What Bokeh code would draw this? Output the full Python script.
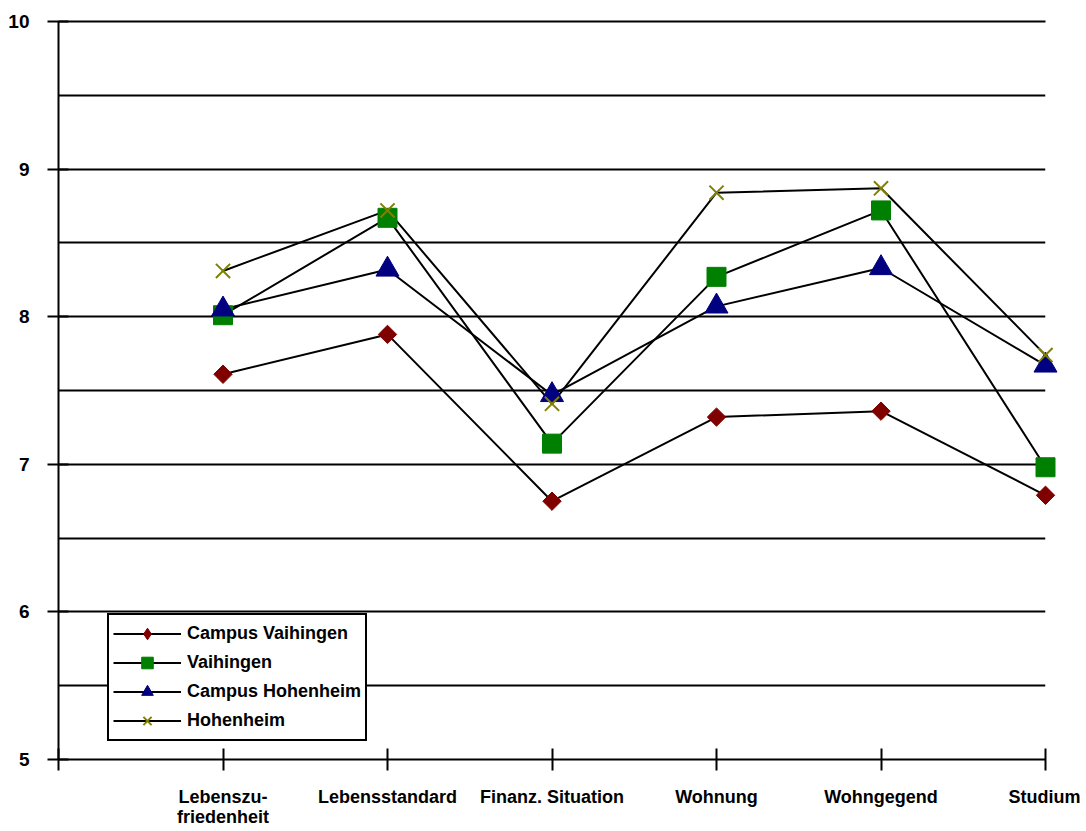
import math
from bokeh.plotting import figure
from bokeh.models import Range1d, FixedTicker, LinearAxis
from bokeh.embed import file_html
from bokeh.resources import INLINE

categories = ["Lebenszu-\nfriedenheit", "Lebensstandard", "Finanz. Situation",
              "Wohnung", "Wohngegend", "Studium"]
campus_vaihingen = [7.61, 7.88, 6.75, 7.32, 7.36, 6.79]
vaihingen = [8.01, 8.67, 7.14, 8.27, 8.72, 6.98]
campus_hohenheim = [8.05, 8.32, 7.47, 8.07, 8.33, 7.67]
hohenheim = [8.31, 8.72, 7.41, 8.84, 8.87, 7.74]
y_ticks = [5, 6, 7, 8, 9, 10]

x = list(range(1, len(categories) + 1))
FONT = "Liberation Sans"

p = figure(width=1080, height=829, x_range=Range1d(0, len(categories)),
           y_range=Range1d(y_ticks[0], y_ticks[-1]),
           output_backend="svg", toolbar_location=None,
           min_border_left=58, min_border_right=35, min_border_top=21, min_border_bottom=10)
p.outline_line_color = None
p.background_fill_color = "white"

# grid
p.xgrid.grid_line_color = None
p.ygrid.grid_line_color = "black"
p.ygrid.grid_line_width = 2
p.ygrid.minor_grid_line_color = "black"
p.ygrid.minor_grid_line_width = 2

# y axis
yax = p.left[0]
yax.ticker = FixedTicker(ticks=y_ticks, minor_ticks=[t + 0.5 for t in y_ticks[:-1]])
yax.axis_line_color = "black"
yax.axis_line_width = 2
yax.major_tick_line_width = 2
yax.major_tick_in = 10
yax.major_tick_out = 11
yax.minor_tick_in = 0
yax.minor_tick_out = 0
yax.major_label_standoff = 18
yax.major_label_text_font = FONT
yax.major_label_text_font_style = "bold"
yax.major_label_text_font_size = "19px"
yax.major_label_text_color = "black"

# x axis
xax = p.below[0]
xax.ticker = FixedTicker(ticks=[0] + x)
overrides = {0: ""}
for xi, c in zip(x, categories):
    overrides[xi] = c
xax.major_label_overrides = overrides
xax.axis_line_color = "black"
xax.axis_line_width = 2
xax.major_tick_line_width = 2
xax.major_tick_in = 11
xax.major_tick_out = 11
xax.minor_tick_in = 0
xax.minor_tick_out = 0
xax.major_label_standoff = 16
xax.major_label_text_font = FONT
xax.major_label_text_font_style = "bold"
xax.major_label_text_font_size = "18px"
xax.major_label_text_line_height = 1.0
xax.major_label_text_color = "black"

# top border line (gridline at 10)
top = LinearAxis(ticker=FixedTicker(ticks=[]), axis_line_color="black", axis_line_width=2,
                 major_tick_in=0, major_tick_out=0, minor_tick_in=0, minor_tick_out=0,
                 major_label_standoff=0, major_label_text_font_size="0px")
p.add_layout(top, "above")

series = [
    ("Campus Vaihingen", campus_vaihingen, dict(marker="square", angle=math.pi / 4, size=13,
                                                 fill_color="#800000", line_color="#800000")),
    ("Vaihingen", vaihingen, dict(marker="square", size=19,
                                  fill_color="#008000", line_color="#008000")),
    ("Campus Hohenheim", campus_hohenheim, dict(marker="triangle", size=23,
                                                fill_color="#000080", line_color="#000080")),
    ("Hohenheim", hohenheim, dict(marker="x", size=20, line_color="#808000", line_width=2)),
]

for name, vals, _ in series:
    p.line(x, vals, line_color="black", line_width=2, legend_label=name)
for i, (name, vals, style) in enumerate(series):
    if i == 0:
        # rotated square in the chart; legend swatch uses a diamond marker (no visible data)
        p.scatter(x, vals, level="overlay", **style)
        p.scatter([math.nan], [math.nan], legend_label=name, marker="diamond",
                  fill_color=style["fill_color"], line_color=style["line_color"])
    else:
        p.scatter(x, vals, legend_label=name, level="overlay", **style)

lg = p.legend[0]
lg.location = (49, 18)
lg.border_line_color = "black"
lg.border_line_width = 2
lg.border_line_alpha = 1
lg.background_fill_color = "white"
lg.background_fill_alpha = 1
lg.label_text_font = FONT
lg.label_text_font_style = "bold"
lg.label_text_font_size = "18px"
lg.label_text_color = "black"
lg.glyph_width = 68
lg.glyph_height = 29
lg.label_height = 20
lg.spacing = 0
lg.padding = 4
lg.label_standoff = 6
lg.margin = 0

open("out.html", "w").write(file_html(p, INLINE))
